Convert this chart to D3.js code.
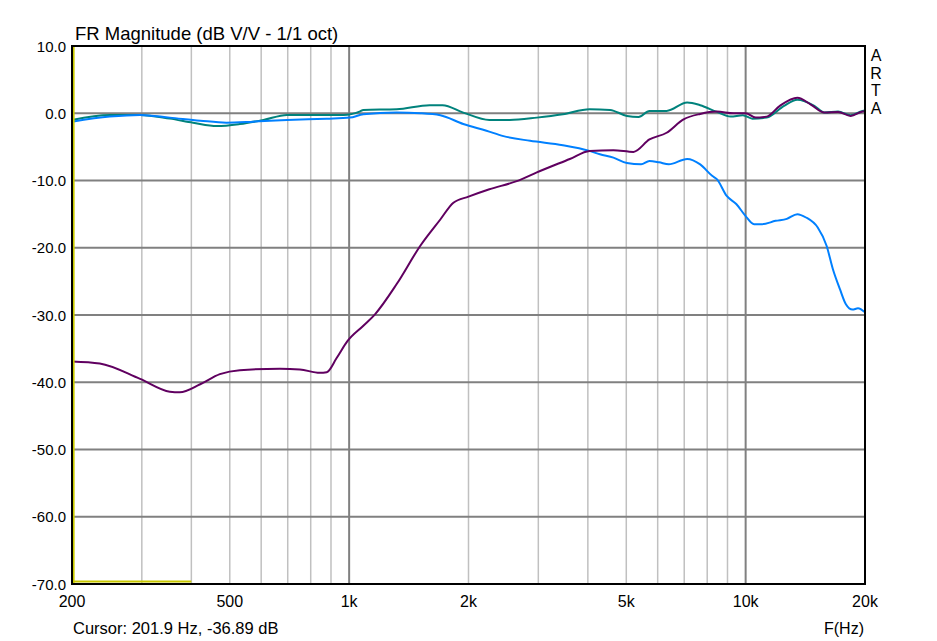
<!DOCTYPE html>
<html lang="en">
<head>
  <meta charset="utf-8">
  <title>FR Magnitude</title>
  <script src="https://d3js.org/d3.v7.min.js"></script>
</head>
<style>
  body { margin: 0; background: #fff; }
  text { font-family: "Liberation Sans", Arial, sans-serif; fill: #000; }
</style>
<body>
  <div class="chart"></div>
</body>
<script>
// frequency (Hz) / level (dB) pairs
var purpleF  = [200, 235, 297, 353, 374, 421, 472, 530, 669, 751, 843, 878, 930, 990, 1086, 1162, 1318, 1512, 1698, 1832, 2000, 2258, 2646, 2974, 3602, 4040, 4640, 5213, 5720, 6320, 6973, 7680, 8460, 9320, 10000, 10600, 11300, 12200, 13500, 14600, 15800, 17100, 18400, 19700, 20000];
var purpleDb = [-36.9, -37.2, -39.5, -41.4, -41.5, -40.3, -38.8, -38.2, -38.0, -38.1, -38.6, -38.5, -36.4, -33.9, -31.6, -29.9, -25.4, -19.7, -15.8, -13.3, -12.4, -11.3, -10.1, -8.8, -6.8, -5.6, -5.5, -5.75, -3.9, -2.9, -0.9, -0.1, 0.25, 0, 0, -0.65, -0.5, 1.1, 2.3, 1.3, 0.1, 0.2, -0.4, 0.25, 0.3];

var tealF  = [200, 249, 297, 353, 404, 464, 530, 608, 697, 814, 968, 1062, 1086, 1318, 1596, 1720, 1940, 2258, 2540, 2974, 3460, 4040, 4550, 5020, 5370, 5720, 6320, 7120, 7680, 8460, 9160, 9840, 10400, 11300, 12500, 13500, 14900, 15800, 17100, 18400, 19700, 20000];
var tealDb = [-1.0, -0.25, -0.25, -0.8, -1.4, -1.9, -1.6, -1.0, -0.25, -0.25, -0.25, 0.25, 0.5, 0.6, 1.2, 1.2, 0.1, -1.0, -1.0, -0.65, -0.15, 0.6, 0.5, -0.4, -0.55, 0.35, 0.35, 1.6, 1.2, 0.2, -0.5, -0.3, -0.8, -0.65, 1.1, 2.0, 1.1, 0.1, 0.25, -0.3, 0.35, 0.4];

var blueF  = [200, 249, 297, 353, 421, 490, 573, 697, 877, 1004, 1086, 1318, 1512, 1698, 1940, 2220, 2450, 2860, 3460, 4040, 4290, 4640, 5020, 5450, 5720, 6050, 6400, 7120, 7680, 8230, 8460, 8960, 9470, 10000, 10500, 11000, 11900, 12700, 13500, 14200, 15200, 16000, 16600, 17300, 17900, 18600, 19200, 20000];
var blueDb = [-1.25, -0.5, -0.25, -0.65, -1.1, -1.4, -1.25, -1.0, -0.8, -0.65, -0.15, 0.1, 0, -0.3, -1.6, -2.6, -3.4, -4.1, -4.75, -5.6, -6.1, -6.6, -7.4, -7.6, -7.1, -7.3, -7.6, -6.8, -7.6, -9.3, -9.8, -12.3, -13.5, -15.3, -16.5, -16.5, -16.0, -15.7, -15.0, -15.5, -17.0, -19.7, -23.2, -26.2, -28.4, -29.2, -29.0, -29.6];

var yTicks = [10, 0, -10, -20, -30, -40, -50, -60, -70];
var xMinor = [300, 400, 500, 600, 700, 800, 900, 2000, 3000, 4000, 5000, 6000, 7000, 8000, 9000];
var xMajor = [1000, 10000];
var xLabels = [[200, "200"], [500, "500"], [1000, "1k"], [2000, "2k"], [5000, "5k"], [10000, "10k"], [20000, "20k"]];
var cursorF = 201.9, cursorDb = -36.89;

var margin = {top: 46, left: 72, right: 72, bottom: 57};
var W = 937, H = 641;
var width = W - margin.left - margin.right;
var height = H - margin.top - margin.bottom;

var svg = d3.select(".chart").append("svg")
  .attr("width", W)
  .attr("height", H);

var g = svg.append("g")
  .attr("transform", "translate(" + margin.left + "," + margin.top + ")");

var x = d3.scaleLog().domain([200, 20000]).range([0, width]);
var y = d3.scaleLinear().domain([-70, 10]).range([height, 0]);

// grid
g.selectAll(".minor").data(xMinor).enter().append("line")
  .attr("x1", function(d){ return x(d); }).attr("x2", function(d){ return x(d); })
  .attr("y1", 0).attr("y2", height)
  .attr("stroke", "#c0c0c0").attr("stroke-width", 1.5);

g.selectAll(".hgrid").data(yTicks).enter().append("line")
  .attr("x1", 0).attr("x2", width)
  .attr("y1", function(d){ return y(d); }).attr("y2", function(d){ return y(d); })
  .attr("stroke", "#808080").attr("stroke-width", 2);

g.selectAll(".major").data(xMajor).enter().append("line")
  .attr("x1", function(d){ return x(d); }).attr("x2", function(d){ return x(d); })
  .attr("y1", 0).attr("y2", height)
  .attr("stroke", "#808080").attr("stroke-width", 2);

// curves
var line = d3.line()
  .curve(d3.curveMonotoneX)
  .x(function(d){ return x(d[0]); })
  .y(function(d){ return y(d[1]); });

var series = [
  {f: tealF, v: tealDb, color: "#00827c"},
  {f: blueF, v: blueDb, color: "#0080ff"},
  {f: purpleF, v: purpleDb, color: "#600060"}
];

g.selectAll(".curve").data(series).enter().append("path")
  .attr("d", function(s){ return line(d3.zip(s.f, s.v)); })
  .attr("fill", "none")
  .attr("stroke", function(s){ return s.color; })
  .attr("stroke-width", 2);

// cursor
g.append("line")
  .attr("x1", x(cursorF)).attr("x2", x(cursorF))
  .attr("y1", 0).attr("y2", height)
  .attr("stroke", "#c8c800").attr("stroke-width", 2);
g.append("line")
  .attr("x1", 0).attr("x2", x(400))
  .attr("y1", height - 2.5).attr("y2", height - 2.5)
  .attr("stroke", "#c8c800").attr("stroke-width", 2);

// frame
g.append("rect")
  .attr("x", 0).attr("y", 0)
  .attr("width", width).attr("height", height)
  .attr("fill", "none").attr("stroke", "#000").attr("stroke-width", 2);

// labels
g.selectAll(".ylab").data(yTicks).enter().append("text")
  .attr("x", -6)
  .attr("y", function(d){ return y(d) + 5.5; })
  .attr("text-anchor", "end")
  .style("font-size", "15px")
  .text(function(d){ return d.toFixed(1); });

g.selectAll(".xlab").data(xLabels).enter().append("text")
  .attr("x", function(d){ return x(d[0]); })
  .attr("y", height + 23)
  .attr("text-anchor", "middle")
  .style("font-size", "16px")
  .text(function(d){ return d[1]; });

svg.append("text")
  .attr("x", 75).attr("y", 40)
  .style("font-size", "18.5px")
  .text("FR Magnitude (dB V/V - 1/1 oct)");

svg.append("text")
  .attr("x", 73).attr("y", 634)
  .style("font-size", "16.5px")
  .text("Cursor: " + cursorF + " Hz, " + cursorDb + " dB");

svg.append("text")
  .attr("x", 864).attr("y", 634)
  .attr("text-anchor", "end")
  .style("font-size", "16px")
  .text("F(Hz)");

svg.selectAll(".arta").data(["A", "R", "T", "A"]).enter().append("text")
  .attr("x", 876)
  .attr("y", function(d, i){ return 61 + i * 17.5; })
  .attr("text-anchor", "middle")
  .style("font-size", "16px")
  .text(function(d){ return d; });
</script>
</html>
